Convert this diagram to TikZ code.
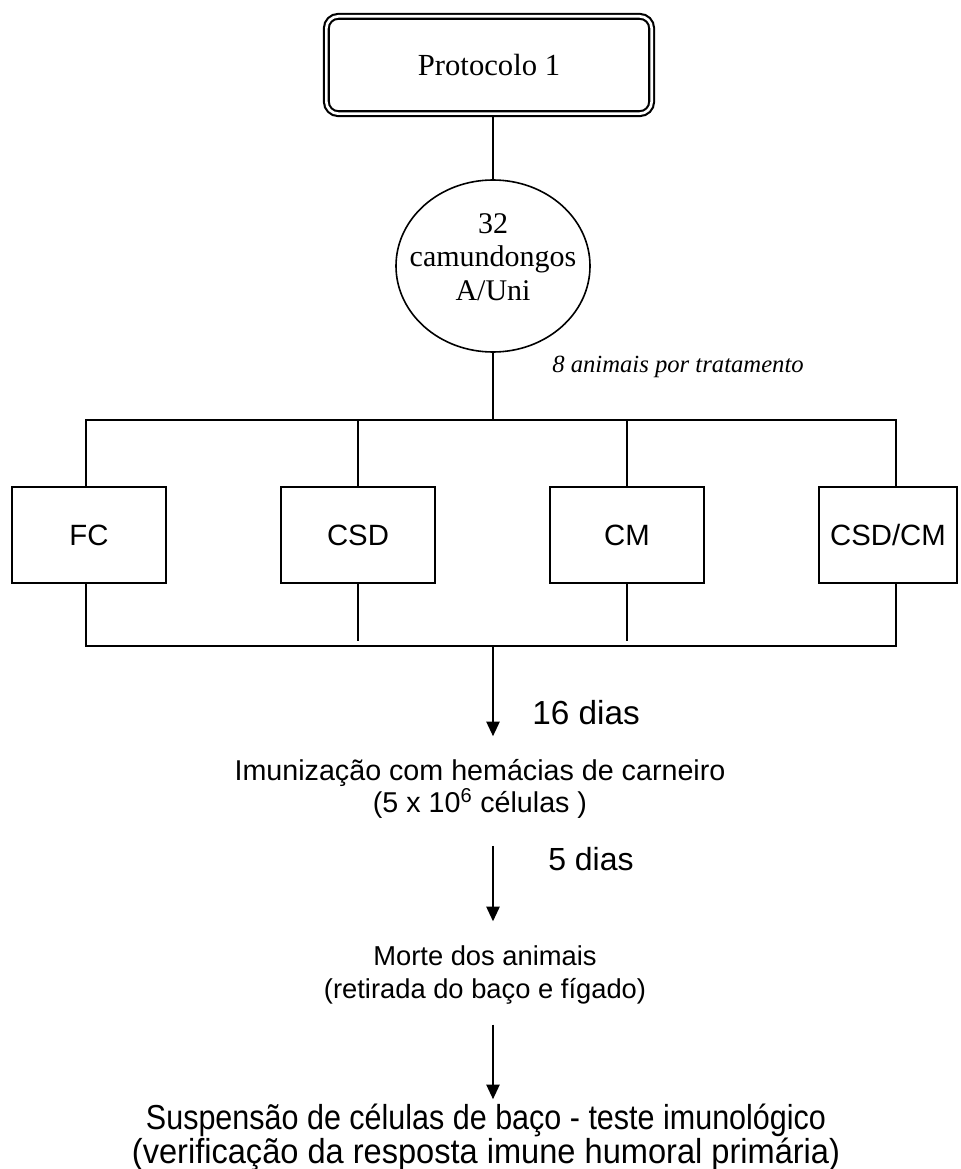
\documentclass[tikz,border=0pt]{standalone}
\usepackage{fontspec}
\usepackage{graphicx}
\setmainfont{Liberation Serif}
\setsansfont{Liberation Sans}
\usepackage{tikz}
\usetikzlibrary{arrows.meta,shapes.geometric}
\tikzset{
  protbox/.style={draw,rounded corners=9pt,double,double distance=2pt,line width=1.6pt,
    minimum width=244pt,minimum height=73pt,outer sep=2.6pt,font=\fontsize{23}{26}\selectfont},
  micecirc/.style={draw,ellipse,line width=1.2pt,minimum width=145.5pt,minimum height=129pt,inner sep=0pt},
  micetext/.style={align=center,inner sep=0pt,font=\fontsize{22.5}{25}\selectfont},
  treat/.style={draw,line width=1.2pt,minimum width=115.5pt,minimum height=72pt,
    font=\sffamily\fontsize{22}{24}\selectfont},
  note/.style={anchor=west,inner sep=0pt,font=\itshape\fontsize{18.5}{22}\selectfont},
  stage/.style={align=center,inner sep=0pt,font=\sffamily\fontsize{21.5}{24.5}\selectfont},
  bigstage/.style={align=center,inner sep=0pt,font=\sffamily\fontsize{26}{22}\selectfont},
  days/.style={anchor=west,inner sep=0pt,font=\sffamily\fontsize{25}{27}\selectfont},
  link/.style={line width=1.3pt},
  flow/.style={-{Triangle[length=11pt,width=10pt]},line width=1.2pt}
}

\begin{document}
\begin{tikzpicture}[x=0.75pt,y=-0.75pt]
  \useasboundingbox (0,0) rectangle (960,1169);
  \node[protbox] (proto) at (489,65) {Protocolo 1};
  \node[micecirc,label={[micetext,yshift=6.75pt]center:32\\camundongos\\A/Uni}] (mice) at (493,266) {};
  \node[note] (pertreat) at (552,367) {8 animais por tratamento};
  \node[treat] (fc) at (89,535) {FC};
  \node[treat] (csd) at (358,535) {CSD};
  \node[treat] (cm) at (627,535) {CM};
  \node[treat,minimum width=103.5pt] (csdcm) at (888,535) {CSD/CM};
  \coordinate (busL) at (86,420);
  \coordinate (busR) at (896,420);
  \coordinate (botL) at (86,646);
  \coordinate (botR) at (896,646);
  \coordinate (botmid) at (493,646);
  \node[days] (d16) at (532,713) {16 dias};
  \node[stage] (immun) at (480,789) {Imunização com hemácias de carneiro\\(5 x 10\textsuperscript{6} células )};
  \node[days,font=\sffamily\fontsize{24}{26}\selectfont] (d5) at (548,859) {5 dias};
  \node[stage,font=\sffamily\fontsize{20.5}{25}\selectfont] (morte) at (485,975) {Morte dos animais\\(retirada do baço e fígado)};
  \node[bigstage] (susp) at (486,1137) {\scalebox{0.88}[1]{Suspensão de células de baço - teste imunológico}\\\scalebox{0.94}[1]{(verificação da resposta imune humoral primária)}};
  % top part
  \draw[link] (proto.south -| mice.north) -- (mice.north);
  \draw[link] (mice.south) -- (mice.south |- busL);
  \draw[link] (busL |- fc.north) -- (busL) -- (busR) -- (busR |- csdcm.north);
  \draw[link] (csd.north |- busL) -- (csd.north);
  \draw[link] (cm.north |- busL) -- (cm.north);
  % bottom part
  \draw[link] (botL |- fc.south) -- (botL) -- (botR) -- (botR |- csdcm.south);
  \draw[link,shorten >=3.75pt] (csd.south) -- (csd.south |- botL);
  \draw[link,shorten >=3.75pt] (cm.south) -- (cm.south |- botL);
  % arrows
  \draw[flow,shorten >=17pt] (botmid) -- (botmid |- immun.north);
  \draw[flow,shorten <=20pt,shorten >=18pt] (immun.south -| botmid) -- (morte.north -| botmid);
  \draw[flow,shorten <=15pt,shorten >=3pt] (morte.south -| botmid) -- (susp.north -| botmid);
\end{tikzpicture}
\end{document}
